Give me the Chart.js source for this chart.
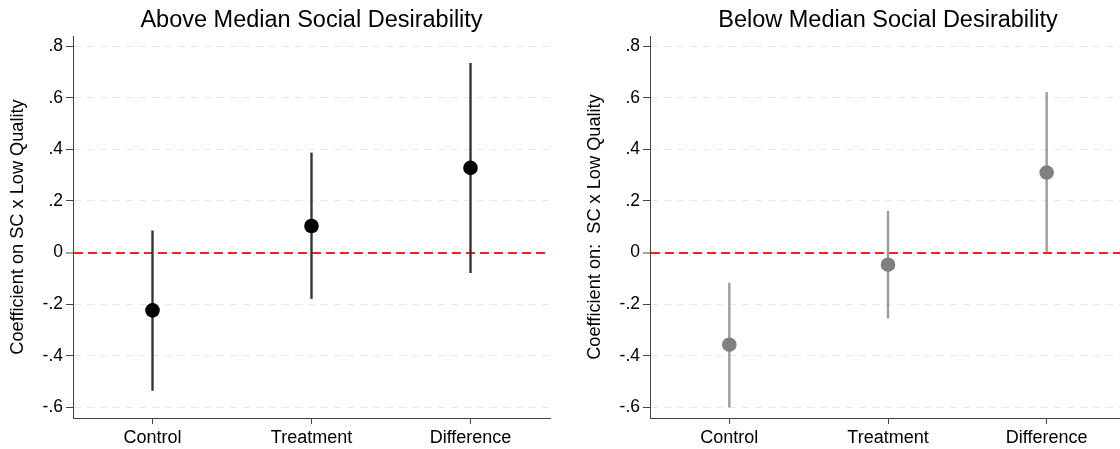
<!DOCTYPE html>
<html>
<head>
<meta charset="utf-8">
<script src="https://cdn.jsdelivr.net/npm/chart.js@4/dist/chart.umd.min.js"></script>
<style>
  html, body { margin: 0; padding: 0; background: #fff; width: 1120px; height: 449px; overflow: hidden; }
  #wrap { position: relative; width: 1120px; height: 449px; overflow: hidden; }
  .box { position: absolute; top: 0; height: 449px; }
  #b1 { left: 0; width: 560px; }
  #b2 { left: 560px; width: 576px; }
</style>
</head>
<body>
<div id="wrap">
  <div class="box" id="b1"><canvas id="c1"></canvas></div>
  <div class="box" id="b2"><canvas id="c2"></canvas></div>
</div>
<script>
// ---- data ----
const categories = ['Control', 'Treatment', 'Difference'];
const yTickValues = [-0.6, -0.4, -0.2, 0, 0.2, 0.4, 0.6, 0.8];
const yTickLabels = ['-.6', '-.4', '-.2', '0', '.2', '.4', '.6', '.8'];

const aboveTitle = 'Above Median Social Desirability';
const aboveYTitle = 'Coefficient on SC x Low Quality';
const aboveEstimate = [-0.224, 0.103, 0.328];
const aboveLower = [-0.534, -0.178, -0.078];
const aboveUpper = [0.084, 0.386, 0.733];

const belowTitle = 'Below Median Social Desirability';
const belowYTitle = 'Coefficient on:  SC x Low Quality';
const belowEstimate = [-0.357, -0.047, 0.310];
const belowLower = [-0.599, -0.254, 0.000];
const belowUpper = [-0.118, 0.160, 0.620];

const FONT = '"Liberation Sans", Arial, Helvetica, sans-serif';

function makeChart(canvasId, cfg) {
  const ranges = cfg.lower.map((lo, i) => [lo, cfg.upper[i]]);
  return new Chart(document.getElementById(canvasId), {
    data: {
      labels: categories,
      datasets: [
        {
          type: 'line',
          data: cfg.estimate,
          showLine: false,
          pointRadius: 7.3,
          pointHoverRadius: 7.3,
          pointBackgroundColor: cfg.pointColor,
          pointBorderColor: cfg.pointColor,
          pointBorderWidth: 0,
          order: 0
        },
        {
          type: 'bar',
          data: ranges,
          backgroundColor: cfg.lineColor,
          borderWidth: 0,
          barThickness: cfg.lineWidth,
          order: 1
        }
      ]
    },
    options: {
      responsive: true,
      maintainAspectRatio: false,
      animation: false,
      events: [],
      layout: { padding: { left: 0, right: 10, top: 0, bottom: 0 } },
      plugins: {
        legend: { display: false },
        tooltip: { enabled: false },
        title: {
          display: true,
          text: cfg.title,
          fullSize: false,
          color: '#000',
          font: { family: FONT, size: 23.5, weight: 'normal', lineHeight: 1.2 },
          padding: { top: 6, bottom: 1.8 }
        }
      },
      scales: {
        x: {
          type: 'category',
          offset: true,
          afterFit: s => { s.height = 31; },
          grid: { display: true, drawOnChartArea: false, offset: false, drawTicks: true, tickLength: 6, tickColor: '#444', tickWidth: 1 },
          border: { display: true, color: '#444', width: 1 },
          ticks: { color: '#000', font: { family: FONT, size: 18 }, padding: 3, maxRotation: 0, autoSkip: false }
        },
        y: {
          type: 'linear',
          min: -0.641,
          max: 0.839,
          afterFit: s => { s.width = cfg.axisWidth; },
          afterBuildTicks: s => { s.ticks = yTickValues.map(v => ({ value: v })); },
          grid: {
            display: true,
            drawOnChartArea: true,
            color: c => (c.tick && c.tick.value === 0) ? '#ff1f1f' : '#e8e8e8',
            lineWidth: c => (c.tick && c.tick.value === 0) ? 2 : 1,
            drawTicks: true, tickLength: 7, tickColor: '#444', tickWidth: 1
          },
          border: {
            display: true, color: '#444', width: 1,
            dash: c => (c.type === 'tick') ? ((c.tick && c.tick.value === 0) ? [9, 5] : [7, 6]) : []
          },
          ticks: {
            color: '#000',
            font: { family: FONT, size: 17.5 },
            padding: 3,
            callback: (v, i) => yTickLabels[yTickValues.indexOf(Math.round(v * 10) / 10)]
          },
          title: {
            display: true,
            text: cfg.yTitle,
            color: '#000',
            font: { family: FONT, size: 18.2 },
            padding: { top: cfg.yTitlePad, bottom: 0 }
          }
        }
      }
    }
  });
}

makeChart('c1', {
  title: aboveTitle, yTitle: aboveYTitle,
  estimate: aboveEstimate, lower: aboveLower, upper: aboveUpper,
  pointColor: '#000', lineColor: '#333', lineWidth: 1.7,
  axisWidth: 73, yTitlePad: 7.5
});
makeChart('c2', {
  title: belowTitle, yTitle: belowYTitle,
  estimate: belowEstimate, lower: belowLower, upper: belowUpper,
  pointColor: '#808080', lineColor: '#9a9a9a', lineWidth: 1.7,
  axisWidth: 90, yTitlePad: 24.5
});
</script>
</body>
</html>
